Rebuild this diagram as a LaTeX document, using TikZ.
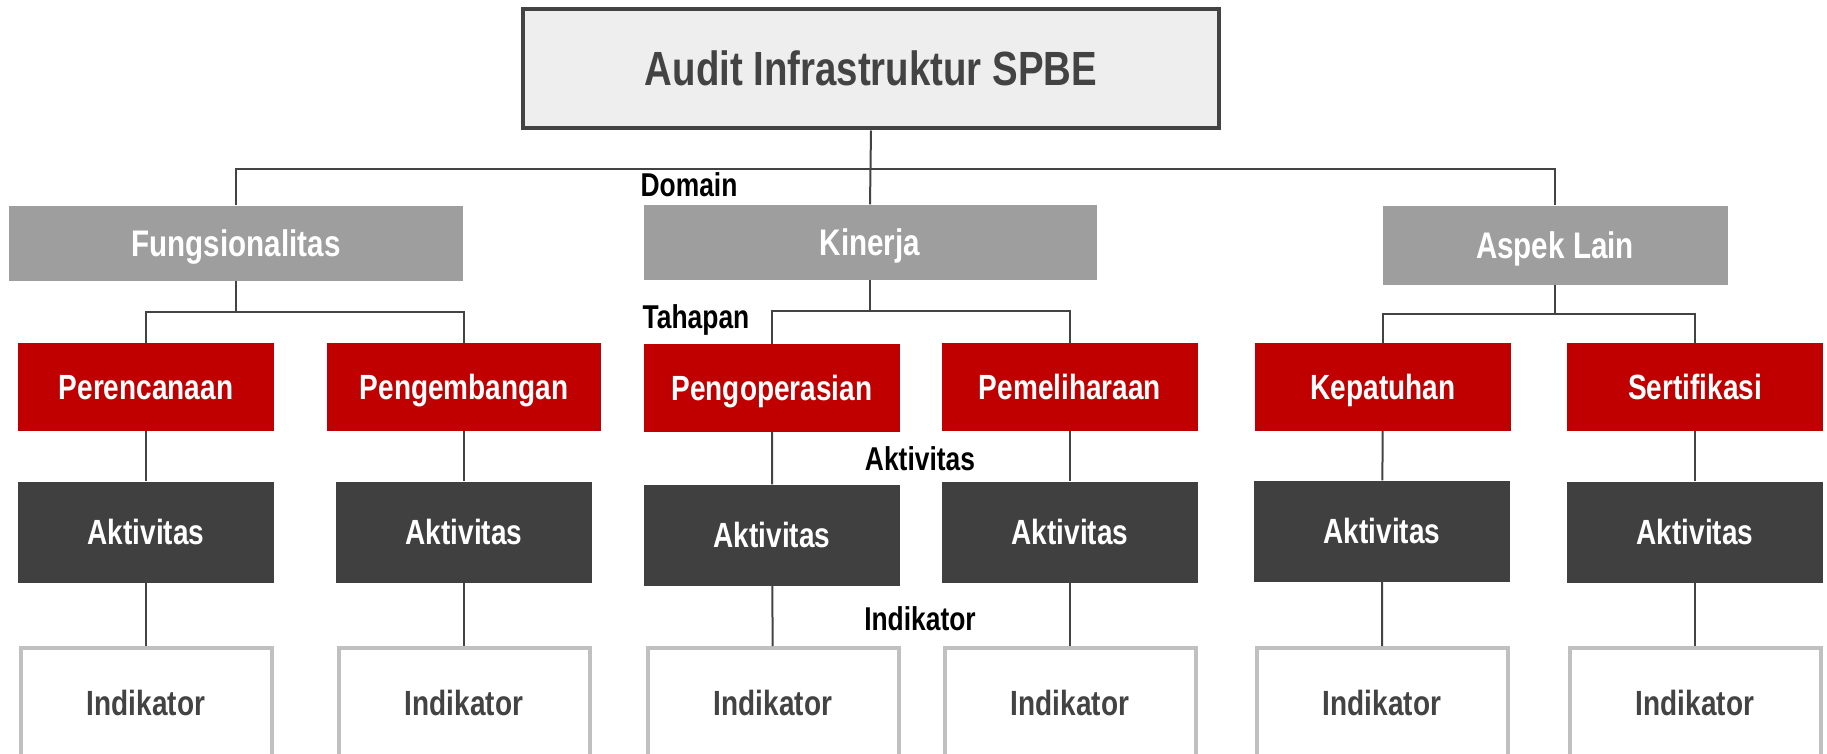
\documentclass[tikz,border=0pt]{standalone}
\usepackage{fontspec}
\setmainfont{Liberation Sans}[FakeStretch=0.8]
\definecolor{rootfill}{HTML}{EEEEEE}
\definecolor{darkline}{HTML}{434343}
\definecolor{domainfill}{HTML}{9E9E9E}
\definecolor{tahapfill}{HTML}{C00000}
\definecolor{aktfill}{HTML}{404040}
\definecolor{indline}{HTML}{C0C0C0}
\begin{document}
\begin{tikzpicture}[x=1pt,y=-1pt,
            root-node/.style={rectangle,draw=darkline,line width=4pt,fill=rootfill,text=darkline,minimum width=696pt,minimum height=119pt,inner sep=0pt,text height=34pt,text depth=0pt,font=\bfseries\fontsize{48}{56}\selectfont},
            domain-node/.style={rectangle,fill=domainfill,text=white,minimum height=75pt,inner sep=0pt,text height=26.5pt,text depth=0pt,font=\bfseries\fontsize{37}{44}\selectfont},
            tahap-node/.style={rectangle,fill=tahapfill,text=white,minimum width=256pt,minimum height=88pt,inner sep=0pt,text height=25pt,text depth=0pt,font=\bfseries\fontsize{35}{42}\selectfont},
            akt-node/.style={rectangle,fill=aktfill,text=white,minimum width=256pt,minimum height=101pt,inner sep=0pt,text height=25pt,text depth=0pt,font=\bfseries\fontsize{35}{42}\selectfont},
            ind-node/.style={rectangle,draw=indline,line width=4pt,fill=white,text=darkline,minimum width=251pt,minimum height=110pt,inner sep=0pt,text height=25pt,text depth=0pt,font=\bfseries\fontsize{35}{42}\selectfont},
            level-label/.style={text=black,inner sep=0pt,text height=23.6pt,text depth=0pt,font=\bfseries\fontsize{33}{40}\selectfont},
            conn/.style={draw=darkline,line width=2pt},
        ]
            \useasboundingbox (0,0) rectangle (1827,754);
            % root
            \node[root-node] (root) at (871, 69) {Audit Infrastruktur SPBE};
            % domain
            \node[domain-node,minimum width=454pt] (fung) at (236, 243) {Fungsionalitas};
            \node[domain-node,minimum width=453pt] (kin) at (870, 242) {Kinerja};
            \node[domain-node,minimum width=345pt,minimum height=79pt] (aspek) at (1555, 245) {Aspek Lain};
            % tahapan
            \node[tahap-node] (renc) at (146, 387) {Perencanaan};
            \node[tahap-node,minimum width=274pt] (kemb) at (464, 387) {Pengembangan};
            \node[tahap-node] (oper) at (772, 388) {Pengoperasian};
            \node[tahap-node] (pelih) at (1070, 387) {Pemeliharaan};
            \node[tahap-node] (patuh) at (1383, 387) {Kepatuhan};
            \node[tahap-node] (serti) at (1695, 387) {Sertifikasi};
            % aktivitas
            \node[akt-node] (akt1) at (146, 532) {Aktivitas};
            \node[akt-node] (akt2) at (464, 532) {Aktivitas};
            \node[akt-node] (akt3) at (772, 535) {Aktivitas};
            \node[akt-node] (akt4) at (1070, 532) {Aktivitas};
            \node[akt-node] (akt5) at (1382, 531) {Aktivitas};
            \node[akt-node] (akt6) at (1695, 532) {Aktivitas};
            % indikator
            \node[ind-node] (ind1) at (146, 703) {Indikator};
            \node[ind-node] (ind2) at (464, 703) {Indikator};
            \node[ind-node] (ind3) at (773, 703) {Indikator};
            \node[ind-node] (ind4) at (1070, 703) {Indikator};
            \node[ind-node] (ind5) at (1382, 703) {Indikator};
            \node[ind-node] (ind6) at (1695, 703) {Indikator};
            % level labels
            \node[level-label] (lbl-domain) at (689, 185) {Domain};
            \node[level-label] (lbl-tahap) at (696, 317) {Tahapan};
            \node[level-label] (lbl-akt) at (920, 459) {Aktivitas};
            \node[level-label] (lbl-ind) at (920, 619) {Indikator};
            % connectors
            \coordinate (dbus) at (871, 169);
            \draw[conn] (root.south) -- (kin.north);
            \draw[conn] (fung.north) |- (dbus) -| (aspek.north);
            \draw[conn] (fung.south) -- ++(0, 31) coordinate (fbus);
            \draw[conn] (renc.north) |- (fbus) -| (kemb.north);
            \draw[conn] (kin.south) -- ++(0, 31) coordinate (kbus);
            \draw[conn] (oper.north) |- (kbus) -| (pelih.north);
            \draw[conn] (aspek.south) -- ++(0, 29) coordinate (abus);
            \draw[conn] (patuh.north) |- (abus) -| (serti.north);
            \draw[conn] (renc) -- (akt1) -- (ind1);
            \draw[conn] (kemb) -- (akt2) -- (ind2);
            \draw[conn] (oper) -- (akt3) -- (ind3);
            \draw[conn] (pelih) -- (akt4) -- (ind4);
            \draw[conn] (patuh) -- (akt5) -- (ind5);
            \draw[conn] (serti) -- (akt6) -- (ind6);
        \end{tikzpicture}
\end{document}
